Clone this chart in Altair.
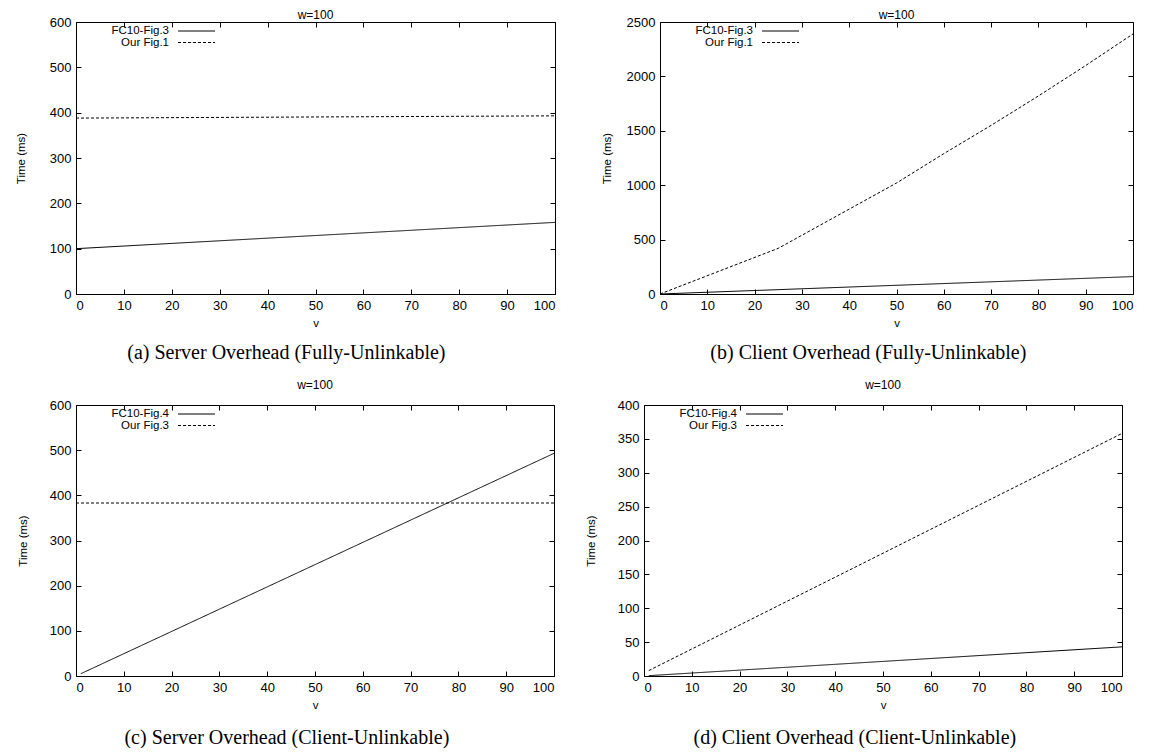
import altair as alt
import pandas as pd

SANS = "Liberation Sans"
SERIF = "Liberation Serif"

# ---------------- data ----------------
names_top = ["FC10-Fig.3", "Our Fig.1"]
names_bot = ["FC10-Fig.4", "Our Fig.3"]

a_fc_v = [0, 100]
a_fc_t = [100, 158]
a_our_v = [0, 100]
a_our_t = [388, 393]

b_fc_v = [0, 100]
b_fc_t = [0, 160]
b_our_v = [0, 25, 30, 40, 50, 60, 70, 80, 90, 100]
b_our_t = [0, 420, 540, 780, 1020, 1290, 1550, 1820, 2100, 2390]

c_fc_v = [1, 100]
c_fc_t = [5, 493]
c_our_v = [0, 100]
c_our_t = [383, 383]

d_fc_v = [1, 100]
d_fc_t = [0.5, 43]
d_our_v = [1, 100]
d_our_t = [8, 358]

x_ticks = [0, 10, 20, 30, 40, 50, 60, 70, 80, 90, 100]
captions = [
    "(a)  Server Overhead (Fully-Unlinkable)",
    "(b)  Client Overhead (Fully-Unlinkable)",
    "(c)  Server Overhead (Client-Unlinkable)",
    "(d)  Client Overhead (Client-Unlinkable)",
]
panel_title = "w=100"
x_title = "v"
y_title = "Time (ms)"


def panel(names, fc_v, fc_t, our_v, our_t, ymax, ystep, width, height,
          caption, title_offset, ytitle_x, caption_offset):
    fc_name, our_name = names
    df = pd.DataFrame({
        "v": list(fc_v) + list(our_v),
        "t": list(fc_t) + list(our_t),
        "s": [fc_name] * len(fc_v) + [our_name] * len(our_v),
    })
    xs = alt.Scale(domain=[0, 100], nice=False, zero=False)
    ys = alt.Scale(domain=[0, ymax], nice=False)
    yv = list(range(0, ymax + 1, ystep))
    ax = dict(domain=False, grid=False, ticks=True, tickSize=5,
              tickColor="black", tickWidth=1, offset=-5)

    lines = alt.Chart(df).mark_line(color="black", strokeWidth=1).encode(
        x=alt.X("v:Q", scale=xs,
                axis=alt.Axis(values=x_ticks, title=x_title, labelPadding=5,
                              titlePadding=5, format="d", **ax)),
        y=alt.Y("t:Q", scale=ys,
                axis=alt.Axis(values=yv, title=y_title, labelPadding=5,
                              format="d", titleX=ytitle_x,
                              titleBaseline="middle", **ax)),
        strokeDash=alt.StrokeDash(
            "s:N",
            scale=alt.Scale(domain=[fc_name, our_name], range=[[1, 0], [3, 2]]),
            legend=None),
        detail="s:N",
    )
    frame = alt.Chart(df).mark_point(opacity=0).encode(
        x=alt.X("v:Q", scale=xs,
                axis=alt.Axis(values=x_ticks, orient="top", labels=False,
                              title=None, **ax)),
        y=alt.Y("t:Q", scale=ys,
                axis=alt.Axis(values=yv, orient="right", labels=False,
                              title=None, **ax)),
    )
    legend_layers = []
    for i, (nm, dash) in enumerate([(fc_name, [1, 0]), (our_name, [3, 2])]):
        yy = 9 + 11.5 * i
        base = alt.Chart(pd.DataFrame({"label": [nm]}))
        legend_layers.append(
            base.mark_text(align="right", baseline="middle", font=SANS,
                           fontSize=11.5, color="black").encode(
                x=alt.value(93), y=alt.value(yy), text="label:N"))
        legend_layers.append(
            base.mark_rule(color="black", strokeWidth=1, strokeDash=dash).encode(
                x=alt.value(102), x2=alt.value(139), y=alt.value(yy)))

    layer = alt.layer(lines, frame, *legend_layers).resolve_axis(
        x="independent", y="independent"
    ).properties(
        width=width, height=height,
        title=alt.TitleParams(panel_title, font=SANS, fontSize=12,
                              fontWeight="normal", frame="group",
                              anchor="middle", offset=title_offset,
                              color="black"),
    )
    return alt.vconcat(
        layer,
        title=alt.TitleParams(caption, orient="bottom", font=SERIF,
                              fontSize=20, fontWeight="normal",
                              anchor="middle", offset=caption_offset,
                              color="black"),
    )


A = panel(names_top, a_fc_v, a_fc_t, a_our_v, a_our_t, 600, 100, 479, 272,
          captions[0], -6, -60, 14)
B = panel(names_top, b_fc_v, b_fc_t, b_our_v, b_our_t, 2500, 500, 473, 272,
          captions[1], -6, -58, 14)
C = panel(names_bot, c_fc_v, c_fc_t, c_our_v, c_our_t, 600, 100, 478, 271,
          captions[2], 7, -58, 17)
D = panel(names_bot, d_fc_v, d_fc_t, d_our_v, d_our_t, 400, 50, 478, 271,
          captions[3], 7, -58, 17)

chart = alt.vconcat(
    alt.hconcat(A, B, spacing=41),
    alt.hconcat(C, D, spacing=26),
    spacing=15,
).properties(
    padding={"left": 6, "top": 0, "right": 0, "bottom": 0}
).configure_axis(
    labelFont=SANS, labelFontSize=13, labelColor="black",
    titleFont=SANS, titleFontSize=11.5, titleFontWeight="normal",
    titleColor="black",
).configure_view(
    stroke="black", strokeWidth=1
)

chart.save("out.html", embed_options={"renderer": "svg", "actions": False})
